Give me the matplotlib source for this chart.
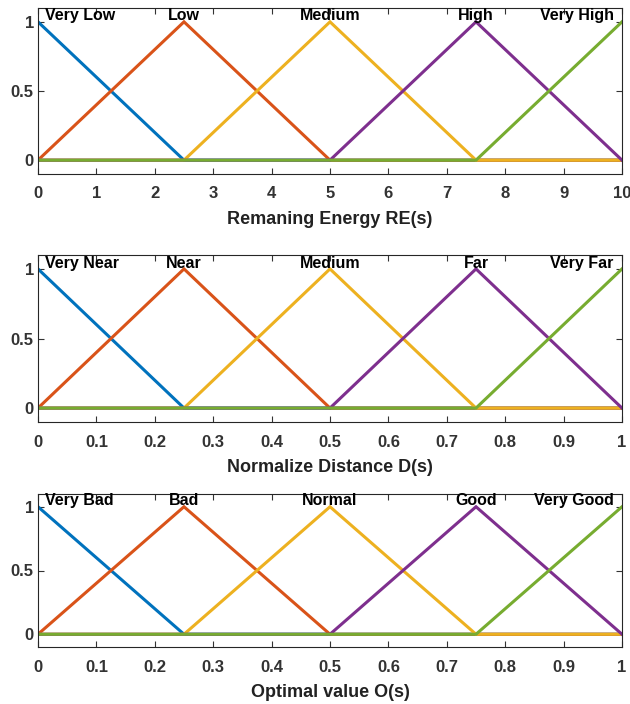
import numpy as np
import matplotlib
matplotlib.use("Agg")
import matplotlib.pyplot as plt

plt.rcParams['font.family'] = ['Liberation Sans', 'DejaVu Sans']
plt.rcParams['font.weight'] = 'bold'

# ---- data ----
re_range = [0, 10]
re_params = [[-2.5, 0, 2.5], [0, 2.5, 5], [2.5, 5, 7.5], [5, 7.5, 10], [7.5, 10, 12.5]]
re_names = ["Very Low", "Low", "Medium", "High", "Very High"]
re_ticks = [0, 1, 2, 3, 4, 5, 6, 7, 8, 9, 10]
re_ticklabels = ["0", "1", "2", "3", "4", "5", "6", "7", "8", "9", "10"]
re_label = "Remaning Energy RE(s)"

d_range = [0, 1]
d_params = [[-0.25, 0, 0.25], [0, 0.25, 0.5], [0.25, 0.5, 0.75], [0.5, 0.75, 1.0], [0.75, 1.0, 1.25]]
d_names = ["Very Near", "Near", "Medium", "Far", "Very Far"]
d_ticks = [0, 0.1, 0.2, 0.3, 0.4, 0.5, 0.6, 0.7, 0.8, 0.9, 1.0]
d_ticklabels = ["0", "0.1", "0.2", "0.3", "0.4", "0.5", "0.6", "0.7", "0.8", "0.9", "1"]
d_label = "Normalize Distance D(s)"

o_range = [0, 1]
o_params = [[-0.25, 0, 0.25], [0, 0.25, 0.5], [0.25, 0.5, 0.75], [0.5, 0.75, 1.0], [0.75, 1.0, 1.25]]
o_names = ["Very Bad", "Bad", "Normal", "Good", "Very Good"]
o_ticks = d_ticks
o_ticklabels = d_ticklabels
o_label = "Optimal value O(s)"

y_ticks = [0, 0.5, 1]
y_ticklabels = ["0", "0.5", "1"]

colors = ["#0072BD", "#D95319", "#EDB120", "#7E2F8E", "#77AC30"]

def trimf(x, p):
    a, b, c = p
    left = (x - a) / (b - a)
    right = (c - x) / (c - b)
    return np.clip(np.minimum(left, right), 0, 1)

W, H = 630, 704
fig = plt.figure(figsize=(W / 100, H / 100), dpi=100)

# axes boxes in pixels: (top, bottom)
boxes = [(8, 174), (255, 422), (494, 647)]
left_px, right_px = 38, 622

panels = [
    (re_range, re_params, re_names, re_ticks, re_ticklabels, re_label),
    (d_range, d_params, d_names, d_ticks, d_ticklabels, d_label),
    (o_range, o_params, o_names, o_ticks, o_ticklabels, o_label),
]

for (top, bot), (rng, params, names, ticks, tlabels, xlabel) in zip(boxes, panels):
    ax = fig.add_axes([left_px / W, 1 - bot / H, (right_px - left_px) / W, (bot - top) / H])
    x = np.linspace(rng[0], rng[1], 2001)
    for p, col in zip(params, colors):
        ax.plot(x, trimf(x, p), color=col, lw=2.2, solid_joinstyle='miter')
    ax.set_xlim(rng)
    ax.set_ylim(-0.1, 1.1)
    ax.set_xticks(ticks)
    ax.set_xticklabels(tlabels)
    ax.set_yticks(y_ticks)
    ax.set_yticklabels(y_ticklabels)
    ax.tick_params(direction='in', length=4, width=0.8, top=True, right=True,
                   labelsize=12, colors='#333333')
    ax.tick_params(axis='x', pad=9)
    ax.tick_params(axis='y', pad=3)
    for lab in ax.get_xticklabels() + ax.get_yticklabels():
        lab.set_fontweight('bold')
    for s in ax.spines.values():
        s.set_color('#262626')
        s.set_linewidth(0.8)
    ax.set_xlabel(xlabel, fontsize=13, fontweight='bold', color='#222222', labelpad=7)
    n = len(names)
    for i, (name, p) in enumerate(zip(names, params)):
        if i == 0:
            ax.annotate(name, xy=(rng[0], 1.01), xytext=(5, 0), textcoords='offset points',
                        ha='left', va='baseline', fontsize=11.5, fontweight='bold', color='black')
        elif i == n - 1:
            ax.annotate(name, xy=(rng[1], 1.01), xytext=(-6, 0), textcoords='offset points',
                        ha='right', va='baseline', fontsize=11.5, fontweight='bold', color='black')
        else:
            ax.text(p[1], 1.01, name, ha='center', va='baseline', fontsize=11.5,
                    fontweight='bold', color='black')

fig.savefig("out.png", dpi=100)
